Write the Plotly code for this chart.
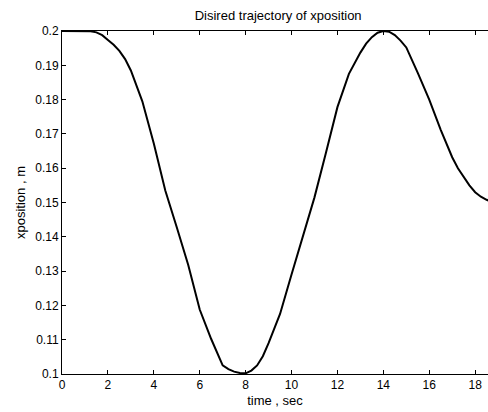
"""Desired trajectory of xposition, MATLAB-style line plot."""

import plotly.graph_objects as go

# data
time_sec = [0, 0.5, 1.0, 1.25, 1.5, 1.75, 2.0, 2.25, 2.5, 2.75, 3.0, 3.5, 4.0,
            4.5, 5.0, 5.5, 6.0, 6.5, 7.0, 7.25, 7.5, 7.75, 8.0, 8.25, 8.5,
            8.75, 9.0, 9.5, 10.0, 10.5, 11.0, 11.5, 12.0, 12.5, 13.0, 13.25,
            13.5, 13.75, 14.0, 14.25, 14.5, 14.75, 15.0, 15.5, 16.0, 16.5,
            17.0, 17.25, 17.5, 17.75, 18.0, 18.25, 18.5, 18.7]
xposition = [0.2, 0.2, 0.2, 0.1999, 0.1996, 0.1988, 0.1974, 0.196, 0.1942,
             0.1918, 0.1885, 0.1795, 0.1672, 0.1535, 0.1428, 0.1318, 0.1188,
             0.1102, 0.1025, 0.1014, 0.1007, 0.1003, 0.1002, 0.101, 0.1025,
             0.1052, 0.109, 0.1175, 0.129, 0.1405, 0.1515, 0.1645, 0.1778,
             0.1875, 0.1937, 0.1963, 0.1982, 0.1995, 0.2, 0.1998, 0.1988,
             0.1972, 0.1952, 0.1878, 0.18, 0.1712, 0.1632, 0.16, 0.1573,
             0.155, 0.153, 0.1517, 0.1508, 0.1502]

x_ticks = [0, 2, 4, 6, 8, 10, 12, 14, 16, 18]
y_ticks = [0.1, 0.11, 0.12, 0.13, 0.14, 0.15, 0.16, 0.17, 0.18, 0.19, 0.2]
y_tick_labels = ['0.1', '0.11', '0.12', '0.13', '0.14', '0.15', '0.16',
                 '0.17', '0.18', '0.19', '0.2']

FAMILY = 'Liberation Sans, Arial, sans-serif'
TICK_FONT = dict(family=FAMILY, size=12, color='black')
LABEL_FONT = dict(family=FAMILY, size=13, color='black')

fig = go.Figure()

fig.add_trace(go.Scatter(
    x=time_sec,
    y=xposition,
    mode='lines',
    line=dict(color='black', width=2),
    showlegend=False,
    hoverinfo='skip'
))

axis_common = dict(
    showgrid=False,
    zeroline=False,
    showline=True,
    linecolor='black',
    linewidth=1,
    ticks='inside',
    ticklen=4,
    tickcolor='black',
    tickfont=TICK_FONT,
)

fig.update_layout(
    width=488,
    height=412,
    paper_bgcolor='white',
    plot_bgcolor='white',
    font=TICK_FONT,
    margin=dict(l=62, r=0, t=31, b=38),
    title=dict(text='Disired trajectory of xposition', x=0.57, xanchor='center',
               y=0.963, yanchor='middle', font=LABEL_FONT),
    xaxis=dict(axis_common, range=[0, 18.56], tickvals=x_ticks, mirror='ticks',
               automargin=False,
               title=dict(text='time , sec', font=LABEL_FONT, standoff=4)),
    yaxis=dict(axis_common, range=[0.1, 0.2], tickvals=y_ticks,
               ticktext=y_tick_labels, automargin=False,
               title=dict(text='xposition , m', font=LABEL_FONT, standoff=6)),
)

# drop the default page margin so the figure sits at the window corner
fig.write_html("out.html",
               config={'displayModeBar': False},
               post_script="document.body.style.margin='0';"
                           "document.body.style.overflow='hidden';")
